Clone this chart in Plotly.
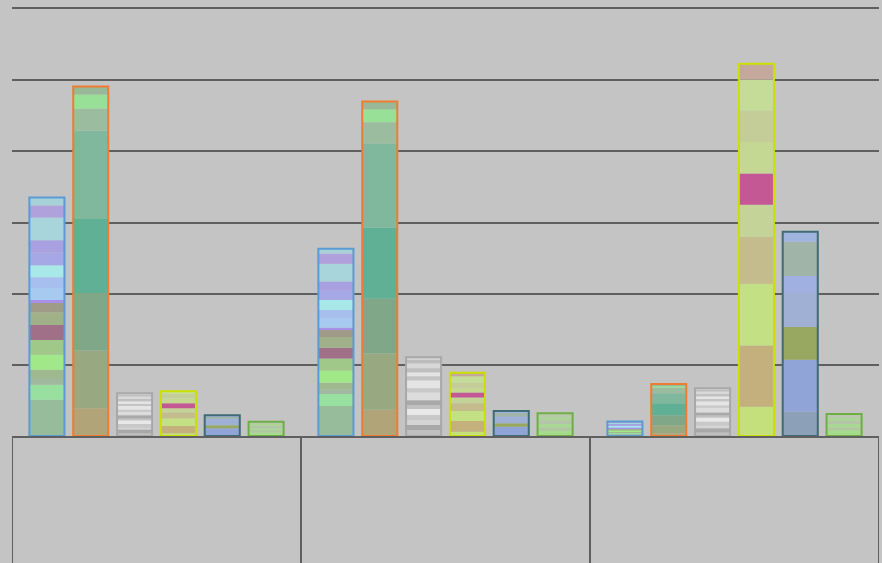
import plotly.graph_objects as go

categories = ["A", "B", "C"]

# Each list holds one stacked segment (bottom -> top), values for the 3 categories
blue_segments = [
    [5.1, 4.2, 0.30], [2.1, 1.7, 0.15], [0.8, 0.6, 0.05], [1.3, 1.0, 0.10],
    [2.1, 1.7, 0.15], [2.1, 1.7, 0.10], [2.1, 1.5, 0.10], [1.8, 1.5, 0.10],
    [1.3, 1.0, 0.05], [0.4, 0.3, 0.03], [1.7, 1.4, 0.15], [1.5, 1.1, 0.10],
    [1.7, 1.4, 0.15], [1.8, 1.3, 0.10], [1.7, 1.3, 0.10], [3.2, 2.5, 0.15],
    [1.7, 1.4, 0.10], [1.1, 0.7, 0.07],
]
orange_segments = [
    [3.9, 3.7, 0.4], [8.1, 7.9, 1.1], [8.1, 7.7, 1.4], [10.4, 10.0, 1.7],
    [12.4, 11.8, 1.4], [3.1, 3.0, 0.8], [2.0, 1.8, 0.3], [1.1, 1.1, 0.2],
]
gray_segments = [
    [0.4, 0.84, 0.5], [0.5, 0.70, 0.6], [0.3, 0.70, 0.4], [0.5, 0.70, 0.5],
    [0.5, 0.84, 0.6], [0.3, 0.56, 0.3], [0.4, 0.70, 0.4], [0.5, 1.12, 0.7],
    [0.3, 0.56, 0.3], [0.5, 1.12, 0.6], [0.3, 0.56, 0.3], [0.4, 0.56, 0.4],
    [0.3, 0.56, 0.3], [0.4, 0.70, 0.4], [0.3, 0.56, 0.3], [0.1, 0.28, 0.1],
]
yellow_segments = [
    [0.4, 0.6, 4.1], [1.0, 1.5, 8.6], [1.1, 1.4, 8.7], [0.8, 1.1, 6.6],
    [0.6, 0.8, 4.5], [0.7, 0.7, 4.4], [0.8, 0.7, 4.4], [0.6, 0.7, 4.4],
    [0.2, 0.9, 4.4], [0.1, 0.5, 2.2],
]
slate_segments = [
    [0.1, 0.1, 3.4], [1.0, 1.2, 7.3], [0.4, 0.5, 4.6], [0.8, 0.8, 4.8],
    [0.1, 0.1, 2.4], [0.4, 0.6, 4.8], [0.1, 0.2, 1.4],
]
green_segments = [
    [0.5, 0.7, 0.8], [0.3, 0.5, 0.4], [0.3, 0.5, 0.5],
    [0.3, 0.5, 0.4], [0.3, 0.5, 0.5], [0.3, 0.5, 0.5],
]

# styles
blue_colors = ["#96bc9c", "#98e0a0", "#a0b8a0", "#a0b890", "#a0e888", "#a0c888",
               "#a07088", "#a0b088", "#a09a88", "#a890e8", "#a6caf0", "#a7bfef",
               "#a8e8e8", "#a6a8e6", "#a8a0e0", "#a8d4dc", "#b0a0dc", "#a8d0d8"]
orange_colors = ["#b0a478", "#98a880", "#80a888", "#5fb094", "#7fb89c", "#9cbca0",
                 "#98e098", "#98b898"]
gray_colors = ["#c0c0c0", "#a8a8a8", "#d4d4d4", "#c8c8c8", "#e8e8e8", "#c0c0c0",
               "#a8a8a8", "#dcdcdc", "#c8c8c8", "#e4e4e4", "#c4c4c4", "#e4e4e4",
               "#c0c0c0", "#d8d8d8", "#bcbcbc", "#d4d4d4"]
yellow_colors = ["#c4e07c", "#c4b07c", "#c4e084", "#c4bc8c", "#c4d498", "#c45894",
                 "#c4d894", "#c4cc98", "#c4dc98", "#c4a89c"]
slate_colors = ["#8ca0b8", "#90a4d8", "#98a860", "#a0b0d4", "#a0b0e0", "#a0b4a8", "#a0b4e0"]
green_colors = ["#a4dc8c", "#b0c8a0", "#a8d894", "#b4c4a8", "#acd498", "#b8c8ac"]

groups = [
    ("g1", blue_segments, blue_colors, "#5b9bd5"),
    ("g2", orange_segments, orange_colors, "#ed7d31"),
    ("g3", gray_segments, gray_colors, "#a8a8a8"),
    ("g4", yellow_segments, yellow_colors, "#cce000"),
    ("g5", slate_segments, slate_colors, "#3f6b75"),
    ("g6", green_segments, green_colors, "#6fad45"),
]

fig = go.Figure()
for name, segs, cols, outline in groups:
    base = [0.0] * len(categories)
    for vals, col in zip(segs, cols):
        fig.add_trace(go.Bar(
            x=categories, y=vals, base=list(base), offsetgroup=name,
            marker=dict(color=col, line=dict(width=0)), showlegend=False,
            hoverinfo="skip",
        ))
        base = [b + v for b, v in zip(base, vals)]
    fig.add_trace(go.Bar(
        x=categories, y=base, base=[0] * len(categories), offsetgroup=name,
        marker=dict(color="rgba(0,0,0,0)", line=dict(color=outline, width=2)),
        showlegend=False, hoverinfo="skip",
    ))

grid = "#5f5f5f"
shapes = []
for xv in [-0.5, 0.5, 1.5, 2.5]:
    shapes.append(dict(type="line", xref="x", yref="paper", x0=xv, x1=xv, y0=0, y1=-0.35,
                       line=dict(color=grid, width=2)))

fig.update_layout(
    width=882, height=563,
    margin=dict(l=12, r=3, t=9, b=127),
    paper_bgcolor="#c4c4c4", plot_bgcolor="#c4c4c4",
    barmode="group", bargap=0.09, bargroupgap=0.2,
    showlegend=False,
    shapes=shapes,
    xaxis=dict(range=[-0.5, 2.5], showticklabels=False, ticks="", showgrid=False,
               showline=True, mirror=True, linecolor=grid, linewidth=2, zeroline=False),
    yaxis=dict(range=[0, 60], dtick=10, showticklabels=False, ticks="",
               showgrid=True, gridcolor=grid, gridwidth=2, zeroline=False, showline=False),
)
fig.write_html(
    "out.html",
    config={"displayModeBar": False},
    post_script="document.body.style.margin='0px';document.body.style.backgroundColor='#c4c4c4';",
)
